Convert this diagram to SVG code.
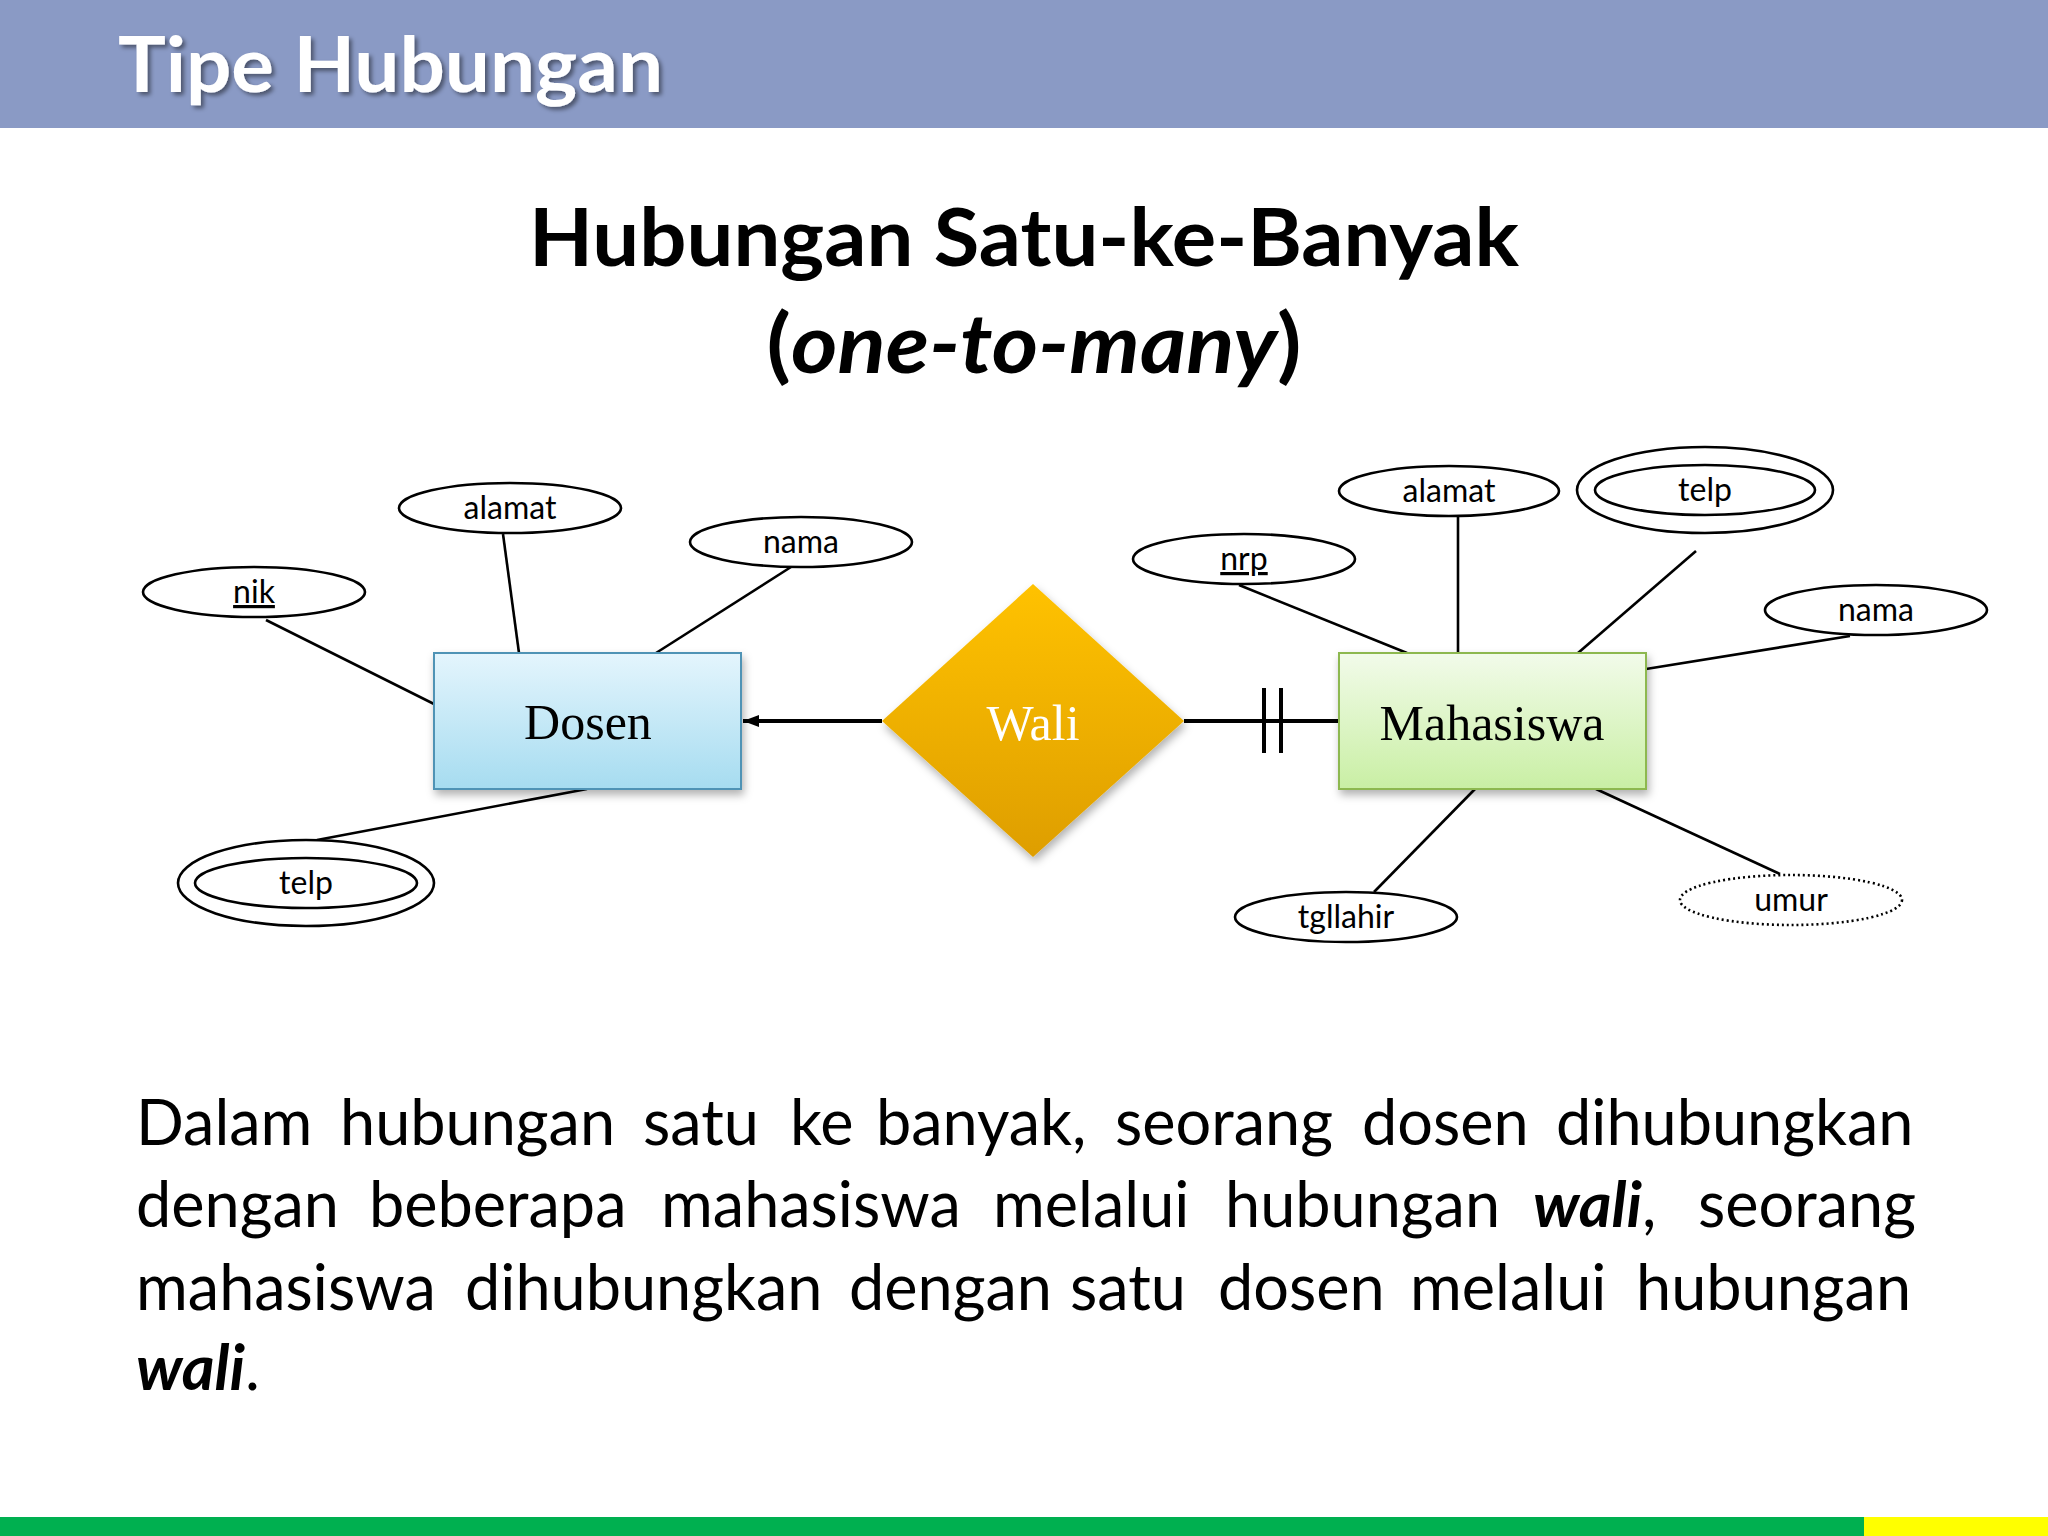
<svg xmlns="http://www.w3.org/2000/svg" width="2048" height="1536" viewBox="0 0 2048 1536">
<defs>
<style>
.attr{fill:#fff;stroke:#000;stroke-width:2.6}
.attrd{fill:#fff;stroke:#000;stroke-width:2.6;stroke-dasharray:2 3}
.lbl{font-family:Lato,"Open Sans",sans-serif;font-size:32px;fill:#000;text-anchor:middle}
.ent{font-family:"Liberation Serif","Times New Roman",serif;font-size:50px;text-anchor:middle}
.conn{stroke:#000;stroke-width:2.6;fill:none}
.rel{stroke:#000;stroke-width:4;fill:none}
.para{font-family:Lato,"Open Sans",sans-serif;font-size:63px;fill:#000}
</style>
<linearGradient id="gBlue" x1="0" y1="0" x2="0" y2="1">
<stop offset="0" stop-color="#E4F5FD"/>
<stop offset="1" stop-color="#A6DCF0"/>
</linearGradient>
<linearGradient id="gGreen" x1="0" y1="0" x2="0" y2="1">
<stop offset="0" stop-color="#F2FBEA"/>
<stop offset="1" stop-color="#C9EFA4"/>
</linearGradient>
<linearGradient id="gGold" x1="0" y1="0" x2="0" y2="1">
<stop offset="0" stop-color="#FFC200"/>
<stop offset="1" stop-color="#DE9E00"/>
</linearGradient>
<filter id="shadow" x="-20%" y="-20%" width="140%" height="150%">
<feDropShadow dx="2" dy="5" stdDeviation="4" flood-color="#000" flood-opacity="0.3"/>
</filter>
<filter id="tshadow" x="-10%" y="-30%" width="120%" height="160%">
<feDropShadow dx="3" dy="3" stdDeviation="2" flood-color="#000" flood-opacity="0.45"/>
</filter>
<marker id="arrow" viewBox="0 0 16 12" refX="16" refY="6" markerWidth="16" markerHeight="12" markerUnits="userSpaceOnUse" orient="auto">
<path d="M0,0 L16,6 L0,12 Z" fill="#000"/>
</marker>
</defs>

<rect width="2048" height="1536" fill="#fff"/>

<!-- header -->
<rect x="0" y="0" width="2048" height="128" fill="#8A9AC5"/>
<text x="118" y="92" font-family="Lato,'Open Sans',sans-serif" font-weight="bold" font-size="77" fill="#fff" filter="url(#tshadow)" textLength="545" lengthAdjust="spacingAndGlyphs">Tipe Hubungan</text>

<!-- bottom bar -->
<rect x="0" y="1517" width="1864" height="19" fill="#00B050"/>
<rect x="1864" y="1517" width="184" height="19" fill="#FFFF00"/>

<!-- heading -->
<text x="1024" y="266" font-family="Lato,'Open Sans',sans-serif" font-weight="bold" font-size="80" text-anchor="middle" textLength="990" lengthAdjust="spacingAndGlyphs">Hubungan Satu-ke-Banyak</text>
<text x="1034" y="373" font-family="Lato,'Open Sans',sans-serif" font-weight="bold" font-size="82" text-anchor="middle" textLength="535" lengthAdjust="spacingAndGlyphs">(<tspan font-style="italic">one-to-many</tspan>)</text>

<!-- connectors -->
<g id="connectors">
<line class="conn" x1="266" y1="620" x2="434" y2="704"/>
<line class="conn" x1="503" y1="534" x2="519" y2="653"/>
<line class="conn" x1="791" y1="567" x2="656" y2="653"/>
<line class="conn" x1="587" y1="789" x2="317" y2="840"/>
<line class="rel" x1="882" y1="721" x2="743" y2="721" marker-end="url(#arrow)"/>
<line class="rel" x1="1184" y1="721" x2="1339" y2="721"/>
<line class="rel" x1="1264" y1="688" x2="1264" y2="753"/>
<line class="rel" x1="1281" y1="688" x2="1281" y2="753"/>
<line class="conn" x1="1239" y1="585" x2="1407" y2="653"/>
<line class="conn" x1="1458" y1="516" x2="1458" y2="653"/>
<line class="conn" x1="1696" y1="551" x2="1578" y2="653"/>
<line class="conn" x1="1850" y1="636" x2="1646" y2="669"/>
<line class="conn" x1="1475" y1="789" x2="1374" y2="892"/>
<line class="conn" x1="1596" y1="789" x2="1780" y2="874"/>
</g>

<!-- Dosen entity -->
<g id="dosen">
<rect x="434" y="653" width="307" height="136" fill="url(#gBlue)" stroke="#4F93B5" stroke-width="2" filter="url(#shadow)"/>
<text class="ent" x="588" y="739">Dosen</text>
</g>

<!-- Wali relationship -->
<g id="wali">
<polygon points="1033,584 1184,721 1033,857 882,721" fill="url(#gGold)" filter="url(#shadow)"/>
<text class="ent" x="1033" y="740" fill="#fff">Wali</text>
</g>

<!-- Mahasiswa entity -->
<g id="mahasiswa">
<rect x="1339" y="653" width="307" height="136" fill="url(#gGreen)" stroke="#8DB84F" stroke-width="2" filter="url(#shadow)"/>
<text class="ent" x="1492" y="740">Mahasiswa</text>
</g>

<!-- Dosen attributes -->
<g id="dosen-nik">
<ellipse class="attr" cx="254" cy="592" rx="111" ry="25"/>
<text class="lbl" x="254" y="603" text-decoration="underline">nik</text>
</g>
<g id="dosen-alamat">
<ellipse class="attr" cx="510" cy="508" rx="111" ry="25"/>
<text class="lbl" x="510" y="519">alamat</text>
</g>
<g id="dosen-nama">
<ellipse class="attr" cx="801" cy="542" rx="111" ry="25"/>
<text class="lbl" x="801" y="553">nama</text>
</g>
<g id="dosen-telp">
<ellipse class="attr" cx="306" cy="883" rx="128" ry="43"/>
<ellipse class="attr" cx="306" cy="883" rx="111" ry="25"/>
<text class="lbl" x="306" y="894">telp</text>
</g>

<!-- Mahasiswa attributes -->
<g id="mhs-nrp">
<ellipse class="attr" cx="1244" cy="559" rx="111" ry="25"/>
<text class="lbl" x="1244" y="570" text-decoration="underline">nrp</text>
</g>
<g id="mhs-alamat">
<ellipse class="attr" cx="1449" cy="491" rx="110" ry="25"/>
<text class="lbl" x="1449" y="502">alamat</text>
</g>
<g id="mhs-telp">
<ellipse class="attr" cx="1705" cy="490" rx="128" ry="43"/>
<ellipse class="attr" cx="1705" cy="490" rx="110" ry="25"/>
<text class="lbl" x="1705" y="501">telp</text>
</g>
<g id="mhs-nama">
<ellipse class="attr" cx="1876" cy="610" rx="111" ry="25"/>
<text class="lbl" x="1876" y="621">nama</text>
</g>
<g id="mhs-tgllahir">
<ellipse class="attr" cx="1346" cy="917" rx="111" ry="25"/>
<text class="lbl" x="1346" y="928">tgllahir</text>
</g>
<g id="mhs-umur">
<ellipse class="attrd" cx="1791" cy="900" rx="111" ry="25"/>
<text class="lbl" x="1791" y="911">umur</text>
</g>

<!-- paragraph -->
<text class="para" y="1145"><tspan x="136">Dalam</tspan><tspan x="340">hubungan</tspan><tspan x="643">satu</tspan><tspan x="790">ke</tspan><tspan x="876">banyak,</tspan><tspan x="1115">seorang</tspan><tspan x="1362">dosen</tspan><tspan x="1556">dihubungkan</tspan></text>
<text class="para" y="1227"><tspan x="136">dengan</tspan><tspan x="369">beberapa</tspan><tspan x="661">mahasiswa</tspan><tspan x="993">melalui</tspan><tspan x="1225">hubungan</tspan><tspan x="1533" font-weight="bold" font-style="italic">wali</tspan><tspan>,</tspan><tspan x="1698">seorang</tspan></text>
<text class="para" y="1310"><tspan x="136">mahasiswa</tspan><tspan x="465">dihubungkan</tspan><tspan x="849">dengan</tspan><tspan x="1070">satu</tspan><tspan x="1218">dosen</tspan><tspan x="1410">melalui</tspan><tspan x="1636">hubungan</tspan></text>
<text class="para" y="1390"><tspan x="136" font-weight="bold" font-style="italic">wali</tspan><tspan>.</tspan></text>
</svg>
